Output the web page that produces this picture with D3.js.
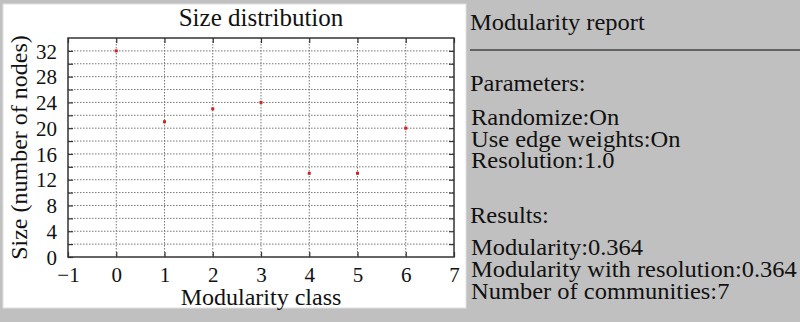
<!DOCTYPE html>
<html><head><meta charset="utf-8">
<script src="https://cdn.jsdelivr.net/npm/d3@7"></script>
<style>html,body{margin:0;padding:0;background:#c0c0c0;}svg{display:block;}</style>
</head><body>
<script>
const classes = [0, 1, 2, 3, 4, 5, 6];
const sizes = [32, 21, 23, 24, 13, 13, 20];
const xTicks = [-1, 0, 1, 2, 3, 4, 5, 6, 7];
const yLabelTicks = [0, 4, 8, 12, 16, 20, 24, 28, 32];
const yGridTicks = [2, 4, 6, 8, 10, 12, 14, 16, 18, 20, 22, 24, 26, 28, 30, 32];
const titleText = "Size distribution";
const xTitle = "Modularity class";
const yTitle = "Size (number of nodes)";
const reportTitle = "Modularity report";
const paramsHeader = "Parameters:";
const paramsLines = ["Randomize:On", "Use edge weights:On", "Resolution:1.0"];
const resultsHeader = "Results:";
const resultsLines = ["Modularity:0.364", "Modularity with resolution:0.364", "Number of communities:7"];

const W = 800, H = 322;
const font = "'Liberation Serif','Times New Roman',serif";
const svg = d3.select("body").append("svg").attr("width", W).attr("height", H);
svg.append("rect").attr("width", W).attr("height", H).attr("fill", "#c0c0c0");
svg.append("rect").attr("x", 3).attr("y", 4).attr("width", 463).attr("height", 304)
  .attr("fill", "#fff").attr("stroke", "#e0e0e0").attr("stroke-width", 1);

const L = 68, R = 454, T = 38, B = 257;
const x = d3.scaleLinear().domain([-1, 7]).range([L, R]);
const y = d3.scaleLinear().domain([0, 34]).range([B, T]);
const g = svg.append("g");

// grid
g.selectAll(".hg").data(yGridTicks).join("line")
  .attr("x1", L).attr("x2", R).attr("y1", d => y(d)).attr("y2", d => y(d))
  .attr("stroke", "#777").attr("stroke-width", 1).attr("stroke-dasharray", "1.5,1.5");
g.selectAll(".vg").data(xTicks.filter(d => d > -1 && d < 7)).join("line")
  .attr("y1", T).attr("y2", B).attr("x1", d => x(d)).attr("x2", d => x(d))
  .attr("stroke", "#777").attr("stroke-width", 1).attr("stroke-dasharray", "1.5,1.5");

// axes with inward ticks
const ax = g.append("g").attr("transform", `translate(0,${B})`)
  .call(d3.axisBottom(x).tickValues(xTicks).tickSize(-5).tickPadding(10)
    .tickFormat(d => d < 0 ? "\u2212" + Math.abs(d) : d));
const axTop = g.append("g").attr("transform", `translate(0,${T})`)
  .call(d3.axisTop(x).tickValues(xTicks).tickSize(-5).tickFormat(""));
const ay = g.append("g").attr("transform", `translate(${L},0)`)
  .call(d3.axisLeft(y).tickValues(yGridTicks.concat([0])).tickSize(-5).tickPadding(11)
    .tickFormat(d => yLabelTicks.includes(d) ? d : ""));
const ayR = g.append("g").attr("transform", `translate(${R},0)`)
  .call(d3.axisRight(y).tickValues(yGridTicks).tickSize(-5).tickFormat(""));
[ax, axTop, ay, ayR].forEach(a => {
  a.select(".domain").remove();
  a.selectAll(".tick line").attr("stroke", "#333").attr("stroke-width", 1.2);
  a.selectAll("text").attr("font-family", font).attr("font-size", 21).attr("fill", "#111");
});
ax.selectAll("text").attr("dy", "0.71em");
ay.selectAll("text").attr("dy", "0.34em");

g.append("rect").attr("x", L).attr("y", T).attr("width", R - L).attr("height", B - T)
  .attr("fill", "none").attr("stroke", "#333").attr("stroke-width", 1.5);

// points
g.selectAll(".pt").data(classes).join("rect")
  .attr("x", (d) => x(d) - 1.5).attr("y", (d, i) => y(sizes[i]) - 1.5)
  .attr("width", 3).attr("height", 3).attr("fill", "#d42020");

// titles
svg.append("text").attr("x", (L + R) / 2).attr("y", 26).attr("text-anchor", "middle")
  .attr("font-family", font).attr("font-size", 25).attr("fill", "#111").text(titleText);
svg.append("text").attr("x", (L + R) / 2).attr("y", 305).attr("text-anchor", "middle")
  .attr("font-family", font).attr("font-size", 24).attr("fill", "#111").text(xTitle);
svg.append("text").attr("transform", `translate(27,${(T + B) / 2}) rotate(-90)`)
  .attr("text-anchor", "middle")
  .attr("font-family", font).attr("font-size", 24).attr("fill", "#111").text(yTitle);

// report panel
const sx = 1.065;
const rp = svg.append("g").attr("font-family", font).attr("font-size", 23).attr("fill", "#111");
const rText = (px, py, t) => rp.append("text")
  .attr("transform", `translate(${px},${py}) scale(${sx},1)`).text(t);
rText(470, 30, reportTitle);
rp.append("line").attr("x1", 470).attr("x2", 800).attr("y1", 50).attr("y2", 50)
  .attr("stroke", "#444").attr("stroke-width", 1.5);
rText(470, 91, paramsHeader);
paramsLines.forEach((d, i) => rText(471, 125 + i * 21.5, d));
rText(470, 223, resultsHeader);
resultsLines.forEach((d, i) => rText(471, 255 + i * 22, d));
</script>
</body></html>
